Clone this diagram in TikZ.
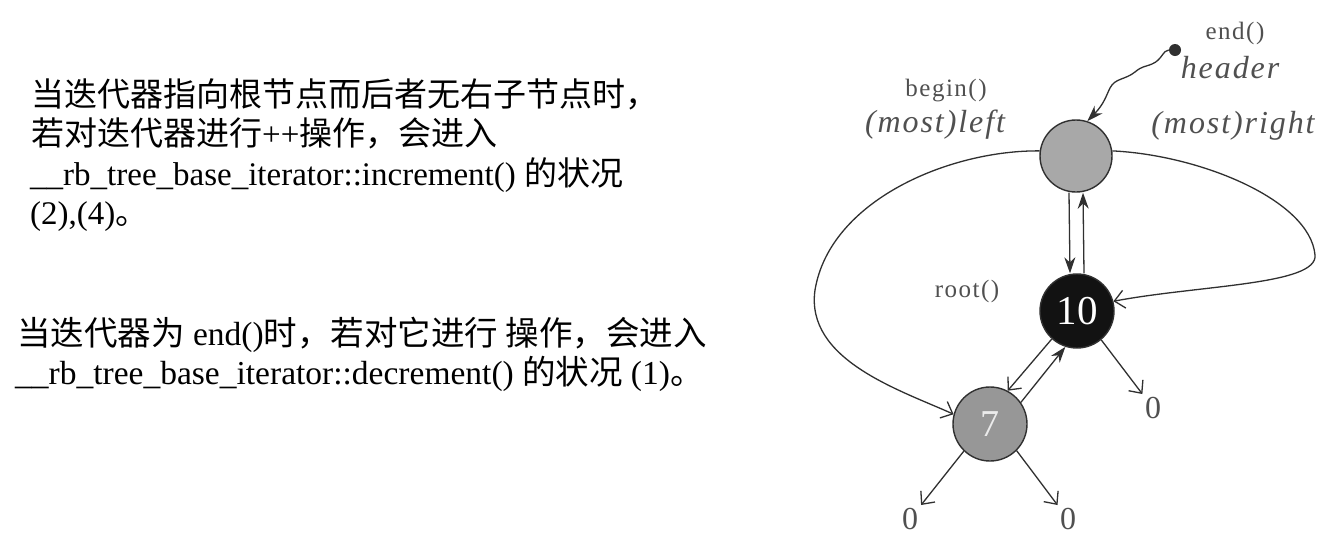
\documentclass[tikz,border=0pt]{standalone}
\usepackage{fontspec}
\setmainfont{Liberation Serif}
\newfontfamily\cjk{Noto Sans CJK SC}
\newfontfamily\lsfont{Liberation Serif}[LetterSpace=6]
\usetikzlibrary{arrows.meta}
\definecolor{lbl}{HTML}{505050}
\definecolor{ln}{HTML}{303030}
\definecolor{grayfill}{HTML}{A8A8A8}
\definecolor{darkfill}{HTML}{121212}
\begin{document}
\begin{tikzpicture}[x=1pt,y=-1pt,
  txt/.style={anchor=base west, inner sep=0pt, font=\fontsize{33}{39}\selectfont},
  txtb/.style={anchor=base west, inner sep=0pt, font=\fontsize{33.5}{39}\selectfont},
  hnode/.style={circle, draw=ln, line width=1.4pt, fill=grayfill, minimum size=72pt, inner sep=0pt},
  blacknode/.style={circle, draw=ln, line width=1.4pt, fill=darkfill, minimum size=74pt, inner sep=0pt, text=white, font=\fontsize{41}{41}\selectfont},
  graynode/.style={circle, draw=ln, line width=1.4pt, fill=grayfill!90!black, minimum size=74pt, inner sep=0pt, text=white!92!black, font=\fontsize{38}{38}\selectfont},
  zero/.style={inner sep=3pt, text=lbl, font=\fontsize{32}{32}\selectfont},
  dotnode/.style={circle, fill=ln, minimum size=12pt, inner sep=0pt},
  small/.style={inner sep=0pt, text=lbl, font=\lsfont\fontsize{25}{25}\selectfont},
  ital/.style={inner sep=0pt, text=lbl, font=\lsfont\itshape\fontsize{32}{32}\selectfont},
  edge/.style={draw=ln, line width=1.3pt},
  filled/.style={-{Stealth[length=16pt,width=11pt]}},
  open/.style={-{Straight Barb[length=10pt,width=18pt,line width=1.3pt]}}
]
\useasboundingbox[fill=white] (0,0) rectangle (1336,550);

% left text
\node[txt] (l1) at (31,106) {\cjk 当迭代器指向根节点而后者无右子节点时，};
\node[txt] (l2) at (31,145.5) {{\cjk 若对迭代器进行}++{\cjk 操作，会进入}};
\node[txt] (l3) at (30,185) {\_\_rb\_tree\_base\_iterator::increment() {\cjk 的状况}};
\node[txt] (l4) at (30,224.5) {(2),(4){\cjk 。}};
\node[txtb] (l5) at (17,345) {{\cjk 当迭代器为} end(){\cjk 时，若对它进行 操作，会进入}};
\node[txtb] (l6) at (15,384) {\_\_rb\_tree\_base\_iterator::decrement() {\cjk 的状况} (1){\cjk 。}};

% tree nodes
\node[hnode] (hdr) at (1076,156) {};
\node[blacknode] (n10) at (1077,311) {10};
\node[graynode] (n7) at (990,424) {7};
\node[zero] (z1) at (1153,408) {0};
\node[zero] (z2) at (910,519) {0};
\node[zero] (z3) at (1068,519) {0};
\node[dotnode] (dot) at (1175,50) {};

% labels
\node[small] (lend) at (1235,33) {end()};
\node[ital] (lhdr) at (1230,68) {header};
\node[small] (lbeg) at (946,91) {begin()};
\node[ital] (lleft) at (935,125) {(most)left};
\node[ital] (lright) at (1233,126) {(most)right};
\node[small] (lroot) at (967,291) {root()};

% connectors
\draw[edge,filled] ([xshift=-7pt]hdr.south) -- ([xshift=-7pt]n10.north);
\draw[edge,filled] ([xshift=7pt]n10.north) -- ([xshift=7pt]hdr.south);
\draw[edge,open] (n10.228) -- (n7.62);
\draw[edge,filled] (n7.35) -- (n10.252);
\draw[edge,open] (n10.310) -- (z1);
\draw[edge,open] (n7.226) -- (z2);
\draw[edge,open] (n7.315) -- (z3);
\draw[edge,open] (hdr.172) .. controls (950,150) and (830,200) .. (815,290)
  .. controls (805,360) and (900,390) .. (n7.165);
\draw[edge,open] (hdr.8) .. controls (1200,155) and (1310,200) .. (1315,255)
  .. controls (1318,285) and (1200,285) .. (n10.15);
\draw[edge,filled] (dot) .. controls (1163,50) and (1162,60) .. (1152,64)
  .. controls (1145,67) and (1142,66) .. (1135,72)
  .. controls (1125,80) and (1115,78) .. (1110,88)
  .. controls (1106,96) and (1104,104) .. (hdr.72);
\end{tikzpicture}
\end{document}
